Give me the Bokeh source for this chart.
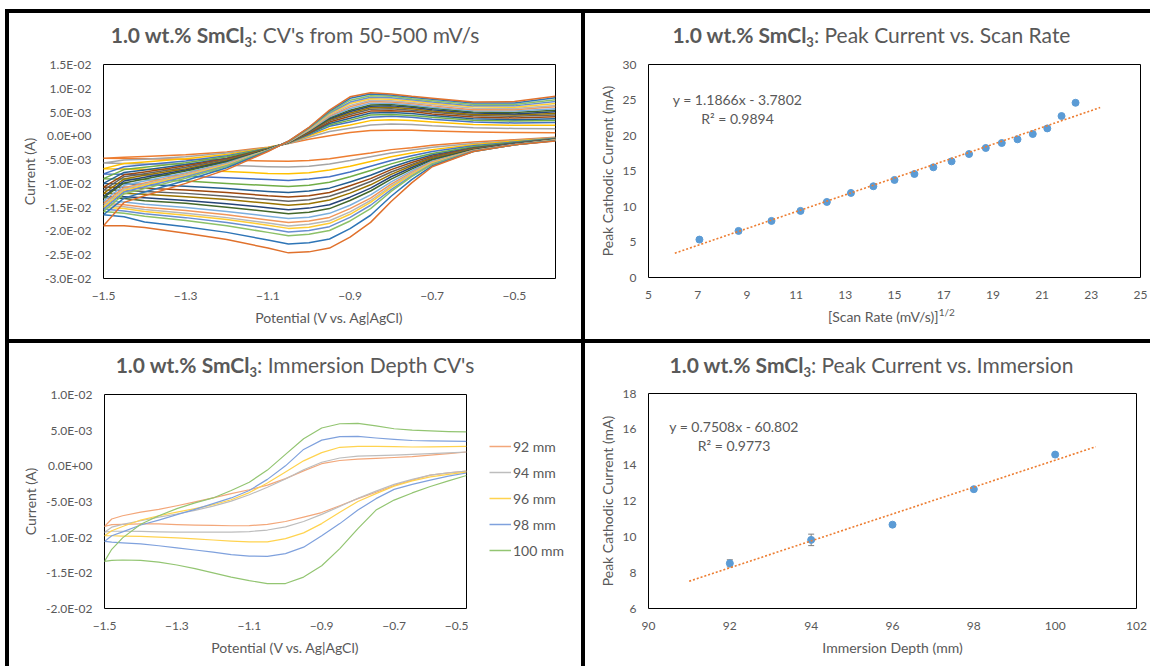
from bokeh.embed import file_html
from bokeh.resources import INLINE
from bokeh.plotting import figure
from bokeh.layouts import row, column
from bokeh.models import (Range1d, FixedTicker, Label, Legend, LegendItem,
                          Whisker, TeeHead, ColumnDataSource, Spacer, Div)

FONT = "Lato"
INK = "#595959"

# ---------------- CVs at 50-500 mV/s (current in mA) ----------------
cv_potential = [-1.50, -1.45, -1.40, -1.30, -1.20, -1.10, -1.05, -1.00, -0.95,
                -0.90, -0.85, -0.80, -0.75, -0.70, -0.60, -0.50, -0.40]
scan_rates = [50, 75, 100, 125, 150, 175, 200, 225, 250, 275,
              300, 325, 350, 375, 400, 425, 450, 475, 500]
# forward (cathodic) sweep, listed from -1.5 V up to -0.4 V
cv_cathodic = [
    [-4.7, -4.75, -4.8, -4.9, -5.1, -5.3, -5.34, -5.2, -4.8, -4.2, -3.6, -2.9, -2.5, -2.0, -1.3, -0.8, -0.3],
    [-5.7, -5.8, -5.9, -6.0, -6.2, -6.5, -6.56, -6.4, -5.9, -5.2, -4.4, -3.6, -3.0, -2.4, -1.6, -1.0, -0.4],
    [-6.9, -7.0, -7.05, -7.2, -7.5, -7.9, -7.97, -7.75, -7.2, -6.4, -5.4, -4.4, -3.6, -2.9, -1.9, -1.1, -0.5],
    [-8.0, -8.1, -8.2, -8.5, -8.8, -9.2, -9.38, -9.1, -8.6, -7.6, -6.4, -5.2, -4.2, -3.3, -2.1, -1.3, -0.5],
    [-9.0, -9.1, -9.2, -9.5, -10.0, -10.45, -10.64, -10.4, -9.75, -8.6, -7.3, -5.9, -4.7, -3.7, -2.3, -1.4, -0.6],
    [-10.0, -10.1, -10.25, -10.6, -11.1, -11.7, -11.91, -11.6, -11.0, -9.7, -8.3, -6.6, -5.2, -4.05, -2.5, -1.5, -0.65],
    [-10.8, -10.8, -11.0, -11.4, -11.9, -12.6, -12.85, -12.6, -11.9, -10.5, -9.0, -7.1, -5.6, -4.3, -2.6, -1.6, -0.7],
    [-11.4, -11.5, -11.7, -12.1, -12.7, -13.4, -13.74, -13.45, -12.7, -11.3, -9.6, -7.6, -6.0, -4.5, -2.7, -1.6, -0.7],
    [-12.1, -12.1, -12.3, -12.8, -13.4, -14.2, -14.58, -14.3, -13.5, -12.05, -10.3, -8.1, -6.3, -4.7, -2.8, -1.7, -0.8],
    [-12.8, -12.8, -13.0, -13.6, -14.3, -15.1, -15.52, -15.2, -14.5, -12.9, -11.0, -8.6, -6.65, -4.95, -2.9, -1.7, -0.8],
    [-13.0, -13.2, -13.65, -14.2, -15.0, -15.9, -16.36, -16.05, -15.3, -13.6, -11.6, -9.1, -7.0, -5.1, -3.0, -1.8, -0.8],
    [-13.7, -13.9, -14.4, -15.05, -15.9, -16.9, -17.39, -17.1, -16.3, -14.6, -12.4, -9.7, -7.35, -5.35, -3.1, -1.8, -0.9],
    [-14.2, -14.5, -15.0, -15.7, -16.6, -17.7, -18.24, -17.9, -17.15, -15.3, -13.1, -10.15, -7.7, -5.5, -3.1, -1.85, -0.9],
    [-14.6, -14.9, -15.5, -16.3, -17.2, -18.35, -18.94, -18.6, -17.85, -16.0, -13.6, -10.55, -7.9, -5.65, -3.2, -1.9, -0.9],
    [-15.0, -15.3, -15.9, -16.7, -17.6, -18.8, -19.46, -19.2, -18.4, -16.5, -14.0, -10.85, -8.1, -5.7, -3.2, -1.9, -0.95],
    [-15.4, -15.8, -16.4, -17.2, -18.2, -19.5, -20.21, -19.9, -19.1, -17.15, -14.6, -11.3, -8.4, -5.9, -3.2, -1.9, -1.0],
    [-15.9, -16.3, -16.9, -17.8, -18.9, -20.3, -21.0, -20.7, -19.9, -17.9, -15.3, -11.7, -8.6, -6.0, -3.3, -1.9, -1.0],
    [-16.6, -17.0, -18.1, -19.1, -20.3, -21.9, -22.74, -22.5, -21.7, -19.5, -16.7, -12.7, -9.2, -6.3, -3.3, -1.9, -1.05],
    [-18.9, -18.9, -19.3, -20.5, -21.8, -23.6, -24.61, -24.4, -23.6, -21.3, -18.2, -13.8, -9.9, -6.5, -3.3, -1.9, -1.1],
]
# reverse (anodic) sweep, from -1.5 V up to -0.4 V
cv_anodic = [
    [-4.7, -4.5, -4.35, -4.0, -3.4, -2.4, -1.6, -0.7, 0.0, 0.7, 1.1, 1.2, 1.15, 1.0, 0.8, 0.7, 0.65],
    [-5.7, -5.1, -4.9, -4.4, -3.6, -2.5, -1.6, -0.3, 0.9, 1.6, 2.3, 2.5, 2.4, 2.1, 1.7, 1.55, 1.5],
    [-6.9, -5.8, -5.5, -4.8, -3.9, -2.5, -1.5, 0.0, 1.5, 2.3, 3.2, 3.4, 3.2, 2.9, 2.4, 2.2, 2.2],
    [-8.0, -6.5, -6.1, -5.3, -4.2, -2.6, -1.5, 0.2, 2.0, 2.9, 3.9, 4.1, 3.9, 3.5, 2.9, 2.7, 2.8],
    [-9.0, -7.1, -6.6, -5.65, -4.4, -2.65, -1.45, 0.4, 2.3, 3.3, 4.4, 4.5, 4.3, 3.9, 3.3, 3.1, 3.2],
    [-10.0, -7.7, -7.2, -6.05, -4.7, -2.7, -1.4, 0.5, 2.6, 3.7, 4.8, 4.9, 4.7, 4.25, 3.6, 3.4, 3.6],
    [-10.8, -8.2, -7.6, -6.3, -4.8, -2.75, -1.4, 0.6, 2.9, 4.1, 5.2, 5.3, 5.1, 4.6, 3.95, 3.75, 4.0],
    [-11.4, -8.6, -7.95, -6.6, -5.0, -2.8, -1.4, 0.8, 3.2, 4.5, 5.6, 5.7, 5.4, 4.96, 4.3, 4.1, 4.4],
    [-12.1, -9.1, -8.3, -6.9, -5.2, -2.8, -1.4, 0.9, 3.4, 4.8, 5.9, 6.0, 5.7, 5.2, 4.5, 4.4, 4.7],
    [-12.8, -9.5, -8.7, -7.2, -5.35, -2.9, -1.35, 1.0, 3.6, 5.1, 6.2, 6.3, 6.0, 5.5, 4.8, 4.6, 5.05],
    [-13.0, -9.9, -9.1, -7.4, -5.5, -2.9, -1.3, 1.05, 3.8, 5.4, 6.5, 6.6, 6.2, 5.8, 5.0, 4.9, 5.4],
    [-13.7, -10.4, -9.5, -7.75, -5.7, -3.0, -1.3, 1.15, 4.0, 5.75, 6.85, 6.85, 6.5, 6.0, 5.3, 5.2, 5.7],
    [-14.2, -10.9, -9.9, -8.0, -5.9, -3.0, -1.3, 1.25, 4.2, 6.1, 7.2, 7.1, 6.8, 6.3, 5.5, 5.5, 6.1],
    [-14.6, -11.2, -10.2, -8.2, -6.0, -3.0, -1.25, 1.35, 4.4, 6.4, 7.5, 7.4, 7.0, 6.6, 5.8, 5.75, 6.4],
    [-15.0, -11.5, -10.4, -8.4, -6.1, -3.1, -1.2, 1.45, 4.6, 6.8, 7.8, 7.7, 7.3, 6.85, 6.1, 6.0, 6.8],
    [-15.4, -11.8, -10.7, -8.6, -6.3, -3.1, -1.2, 1.55, 4.8, 7.1, 8.1, 8.0, 7.6, 7.1, 6.3, 6.3, 7.2],
    [-15.9, -12.2, -11.1, -8.9, -6.4, -3.1, -1.2, 1.6, 5.0, 7.5, 8.45, 8.3, 7.8, 7.4, 6.6, 6.6, 7.6],
    [-16.6, -13.1, -11.8, -9.4, -6.7, -3.2, -1.15, 1.7, 5.2, 7.9, 8.8, 8.6, 8.1, 7.7, 6.9, 6.9, 8.0],
    [-18.9, -14.0, -12.6, -10.0, -7.1, -3.3, -1.1, 1.8, 5.4, 8.2, 9.05, 8.8, 8.3, 7.9, 7.1, 7.2, 8.3],
]
cv_colors = ["#ED7D31", "#A5A5A5", "#FFC000", "#4472C4", "#70AD47", "#255E91",
             "#9E480E", "#636363", "#997300", "#264478", "#43682B", "#7CAFDD",
             "#F1975A", "#B7B7B7", "#FFCD33", "#698ED0", "#8CC168", "#2E75B6",
             "#E0712C"]
cv_x_ticks = [-1.5, -1.3, -1.1, -0.9, -0.7, -0.5]
cv_y_ticks = [-30, -25, -20, -15, -10, -5, 0, 5, 10, 15]
cv_y_labels = ["-3.0E-02", "-2.5E-02", "-2.0E-02", "-1.5E-02", "-1.0E-02",
               "-5.0E-03", "0.0E+00", "5.0E-03", "1.0E-02", "1.5E-02"]

# ---------------- peak current vs. sqrt(scan rate) ----------------
root_scan_rate = [7.07, 8.66, 10.0, 11.18, 12.25, 13.23, 14.14, 15.0, 15.81, 16.58,
                  17.32, 18.03, 18.71, 19.36, 20.0, 20.62, 21.21, 21.79, 22.36]
peak_cathodic = [5.34, 6.56, 7.97, 9.38, 10.64, 11.91, 12.85, 13.74, 14.58, 15.52,
                 16.36, 17.39, 18.24, 18.94, 19.46, 20.21, 21.0, 22.74, 24.61]
scan_fit_slope, scan_fit_intercept = 1.1866, -3.7802
scan_fit_span = [6.07, 23.36]
scan_x_ticks = [5, 7, 9, 11, 13, 15, 17, 19, 21, 23, 25]
scan_y_ticks = [0, 5, 10, 15, 20, 25, 30]

# ---------------- CVs at different immersion depths (mA) ----------------
depth_potential = [-1.50, -1.48, -1.45, -1.40, -1.35, -1.30, -1.25, -1.20, -1.15, -1.10, -1.05,
                   -1.00, -0.95, -0.90, -0.85, -0.80, -0.75, -0.70, -0.65, -0.60, -0.55, -0.50]
depth_names = ["92 mm", "94 mm", "96 mm", "98 mm", "100 mm"]
depth_cathodic = [
    [-8.5, -8.25, -8.2, -8.15, -8.15, -8.25, -8.3, -8.35, -8.4, -8.38, -8.2,
     -7.8, -7.2, -6.55, -5.6, -4.6, -3.7, -2.75, -2.0, -1.3, -1.0, -0.74],
    [-9.3, -9.17, -9.17, -9.2, -9.25, -9.3, -9.3, -9.3, -9.3, -9.22, -9.0,
     -8.55, -7.8, -6.8, -5.7, -4.55, -3.55, -2.6, -1.9, -1.3, -1.0, -0.74],
    [-9.8, -9.8, -9.85, -9.9, -10.0, -10.1, -10.25, -10.4, -10.55, -10.65, -10.65,
     -10.2, -9.4, -8.1, -6.5, -5.0, -3.9, -2.85, -2.1, -1.55, -1.2, -0.88],
    [-10.6, -10.7, -10.8, -10.95, -11.2, -11.5, -11.8, -12.1, -12.45, -12.65, -12.7,
     -12.3, -11.4, -9.8, -8.1, -6.2, -4.6, -3.3, -2.6, -2.0, -1.45, -1.0],
    [-13.4, -13.25, -13.2, -13.25, -13.5, -13.9, -14.4, -15.0, -15.6, -16.1, -16.5,
     -16.5, -15.6, -14.0, -11.6, -8.8, -6.2, -4.8, -3.8, -2.9, -2.1, -1.35],
]
depth_anodic = [
    [-8.5, -7.45, -7.0, -6.5, -6.1, -5.6, -5.05, -4.5, -3.9, -3.35, -2.7,
     -1.8, -0.7, 0.3, 0.75, 0.95, 1.05, 1.17, 1.3, 1.5, 1.72, 1.94],
    [-9.3, -8.6, -8.2, -7.7, -7.2, -6.75, -6.25, -5.65, -4.95, -4.05, -3.0,
     -1.85, -0.55, 0.5, 1.1, 1.35, 1.42, 1.5, 1.6, 1.72, 1.83, 1.94],
    [-9.8, -9.1, -8.5, -7.6, -7.0, -6.5, -6.0, -5.45, -4.75, -3.75, -2.4,
     -0.85, 0.7, 1.85, 2.6, 2.72, 2.72, 2.68, 2.64, 2.66, 2.7, 2.73],
    [-10.6, -9.8, -9.25, -8.3, -7.6, -6.85, -6.1, -5.3, -4.5, -3.45, -1.9,
     0.0, 2.3, 3.6, 4.1, 4.13, 3.9, 3.7, 3.55, 3.5, 3.45, 3.44],
    [-13.4, -11.7, -10.1, -8.2, -7.0, -6.0, -5.2, -4.5, -3.45, -2.3, -0.6,
     1.6, 3.8, 5.3, 5.9, 5.95, 5.6, 5.2, 5.0, 4.9, 4.8, 4.75],
]
depth_colors = ["#F3A77A", "#BDBDBD", "#FFD34F", "#7FA1DD", "#93C572"]
depth_x_ticks = [-1.5, -1.3, -1.1, -0.9, -0.7, -0.5]
depth_y_ticks = [-20, -15, -10, -5, 0, 5, 10]
depth_y_labels = ["-2.0E-02", "-1.5E-02", "-1.0E-02", "-5.0E-03", "0.0E+00", "5.0E-03", "1.0E-02"]

# ---------------- peak current vs. immersion depth ----------------
immersion_depth = [92, 94, 96, 98, 100]
immersion_peak = [8.52, 9.83, 10.68, 12.66, 14.59]
immersion_err = [0.2, 0.32, 0.06, 0.08, 0.06]
depth_fit_slope, depth_fit_intercept = 0.7508, -60.802
depth_fit_span = [91, 101]
imm_x_ticks = [90, 92, 94, 96, 98, 100, 102]
imm_y_ticks = [6, 8, 10, 12, 14, 16, 18]

MARKER = "#5B9BD5"
TREND = "#ED7D31"
NAN = float("nan")


def make_panel(border, frame, page_origin, xr, yr, x_ticks, y_ticks, x_label, y_label,
               y_overrides=None):
    left, top, right, bottom = border
    fw, fh = frame
    p = figure(width=left + fw + right, height=top + fh + bottom,
               frame_width=fw, frame_height=fh,
               min_border_left=left, min_border_top=top,
               min_border_right=right, min_border_bottom=bottom,
               x_range=Range1d(*xr), y_range=Range1d(*yr),
               toolbar_location=None, output_backend="svg")
    p.xgrid.visible = False
    p.ygrid.visible = False
    p.outline_line_color = "black"
    p.outline_line_width = 1
    p.background_fill_color = "white"
    p.border_fill_color = "white"
    for ax in (p.xaxis[0], p.yaxis[0]):
        ax.axis_line_color = None
        ax.major_tick_line_color = None
        ax.minor_tick_line_color = None
        ax.major_tick_out = 0
        ax.major_tick_in = 0
        ax.major_label_text_font = FONT
        ax.major_label_text_font_size = "12px"
        ax.major_label_text_color = INK
        ax.axis_label_text_font = FONT
        ax.axis_label_text_font_size = "14px"
        ax.axis_label_text_font_style = "normal"
        ax.axis_label_text_color = INK
    p.xaxis.ticker = FixedTicker(ticks=x_ticks)
    p.yaxis.ticker = FixedTicker(ticks=y_ticks)
    p.xaxis.major_label_standoff = 13
    p.yaxis.major_label_standoff = 12
    p.xaxis.axis_label_standoff = 6
    p.yaxis.axis_label_standoff = 4
    if x_label:
        p.xaxis.axis_label = x_label
    p.yaxis.axis_label = y_label
    if y_overrides:
        p.yaxis.major_label_overrides = y_overrides
    # page position of the frame's lower-left corner, for placing free text
    p.tags = [page_origin[0] + left, page_origin[1] + top + fh]
    return p


def put(p, x, y, text, size, align="left"):
    """Place text (inside the frame) at page pixel x with its baseline at y."""
    fl, fb = p.tags
    p.add_layout(Label(x=p.x_range.start, y=p.y_range.start,
                       x_offset=x - fl, y_offset=fb - y, text=text,
                       text_font=FONT, text_font_size=f"{size}px",
                       text_color=INK, text_align=align,
                       text_baseline="alphabetic"))


def title_div(width, rest, shift=0):
    html = (
        f'<div style="box-sizing:border-box;width:{width}px;text-align:center;'
        f'font-family:Lato;font-size:21px;line-height:24px;color:{INK};'
        f'padding-top:10px;padding-left:{shift}px;white-space:nowrap">'
        f'<b>1.0 wt.% SmCl<span style="font-size:13px;position:relative;top:4px">3</span></b>'
        f'{rest}</div>'
    )
    return Div(text=html, width=width, height=40, margin=0)


def bar(w, h):
    return Div(text="", width=w, height=h, margin=0,
               styles={"background-color": "black"})


# ---- CVs vs scan rate ----
p1 = make_panel((94, 11, 26, 61), (452, 214), (9, 53), (-1.5, -0.4), (-30, 15),
                cv_x_ticks, cv_y_ticks, "Potential (V vs. Ag|AgCl)", "Current (A)",
                dict(zip(cv_y_ticks, cv_y_labels)))
for cath, anod, col in zip(cv_cathodic, cv_anodic, cv_colors):
    xs = cv_potential[::-1] + cv_potential
    ys = cath[::-1] + anod
    p1.line(xs, ys, line_color=col, line_width=1.5, line_join="round")
panel1 = column(title_div(572, ": CV's from 50-500 mV/s"), p1)

# ---- peak current vs sqrt(scan rate) ----
p2 = make_panel((63, 11, 10, 30), (492, 213), (585, 53), (5, 25), (0, 30),
                scan_x_ticks, scan_y_ticks, None, "Peak Cathodic Current (mA)")
p2.scatter(root_scan_rate, peak_cathodic, size=7, fill_color=MARKER, line_color=MARKER)
p2.line(scan_fit_span, [scan_fit_slope * x + scan_fit_intercept for x in scan_fit_span],
        line_color=TREND, line_width=1.6, line_dash="2 2")
put(p2, 737, 99, "y = 1.1866x - 3.7802", 14, align="center")
put(p2, 737, 118, "R² = 0.9894", 14, align="center")
scan_xlabel = Div(
    text=(f'<div style="font-family:Lato;font-size:14px;line-height:17px;color:{INK};'
          f'padding-top:1px;padding-left:243px;white-space:nowrap">'
          f'[Scan Rate (mV/s)]<sup style="font-size:10px;line-height:0">1/2</sup></div>'),
    width=565, height=32, margin=0)
panel2 = column(title_div(565, ": Peak Current vs. Scan Rate", 8), p2, scan_xlabel)

# ---- CVs vs immersion depth ----
p3 = make_panel((95, 11, 2, 58), (362, 214), (9, 383), (-1.5, -0.5), (-20, 10),
                depth_x_ticks, depth_y_ticks, "Potential (V vs. Ag|AgCl)", "Current (A)",
                dict(zip(depth_y_ticks, depth_y_labels)))
for cath, anod, col in zip(depth_cathodic, depth_anodic, depth_colors):
    xs = depth_potential[::-1] + depth_potential
    ys = cath[::-1] + anod
    p3.line(xs, ys, line_color=col, line_width=1.2, line_join="round")

# legend beside the depth CVs (key swatches carry no data of their own)
key = figure(width=113, height=251, min_border=0, toolbar_location=None,
             output_backend="svg", x_axis_type=None, y_axis_type=None,
             outline_line_color=None, x_range=Range1d(0, 1), y_range=Range1d(0, 1))
items = []
for name, col in zip(depth_names, depth_colors):
    r = key.line([NAN], [NAN], line_color=col, line_width=1.5)
    items.append(LegendItem(label=name, renderers=[r]))
key.add_layout(Legend(items=items, location="top_left", orientation="vertical",
                      glyph_width=22, glyph_height=20, label_height=20, label_standoff=2,
                      spacing=6, padding=0, margin=21, border_line_color=None,
                      background_fill_alpha=0, label_text_font=FONT,
                      label_text_font_size="14px", label_text_color=INK))
panel3 = column(title_div(572, ": Immersion Depth CV's"),
                row(p3, column(Spacer(width=113, height=32), key)))

# ---- peak current vs immersion depth ----
p4 = make_panel((63, 10, 14, 58), (488, 215), (585, 383), (90, 102), (6, 18),
                imm_x_ticks, imm_y_ticks, "Immersion Depth (mm)", "Peak Cathodic Current (mA)")
err_src = ColumnDataSource(dict(
    x=immersion_depth,
    upper=[v + e for v, e in zip(immersion_peak, immersion_err)],
    lower=[v - e for v, e in zip(immersion_peak, immersion_err)]))
p4.add_layout(Whisker(source=err_src, base="x", upper="upper", lower="lower",
                      line_color="#7F7F7F", line_width=1,
                      upper_head=TeeHead(size=6, line_color="#7F7F7F", line_width=1),
                      lower_head=TeeHead(size=6, line_color="#7F7F7F", line_width=1)))
p4.scatter(immersion_depth, immersion_peak, size=7, fill_color=MARKER, line_color=MARKER)
p4.line(depth_fit_span, [depth_fit_slope * x + depth_fit_intercept for x in depth_fit_span],
        line_color=TREND, line_width=1.6, line_dash="2 2")
put(p4, 733.5, 426, "y = 0.7508x - 60.802", 14, align="center")
put(p4, 733.5, 445, "R² = 0.9773", 14, align="center")
panel4 = column(title_div(565, ": Peak Current vs. Immersion", 8), p4)

grid = column(
    Spacer(width=1145, height=9),
    bar(1145, 4),
    row(bar(4, 326), panel1, bar(4, 326), panel2),
    bar(1145, 4),
    row(bar(4, 323), panel3, bar(4, 323), panel4),
)
page = row(Spacer(width=5, height=666), grid)

open("out.html", "w").write(file_html(page, INLINE))
